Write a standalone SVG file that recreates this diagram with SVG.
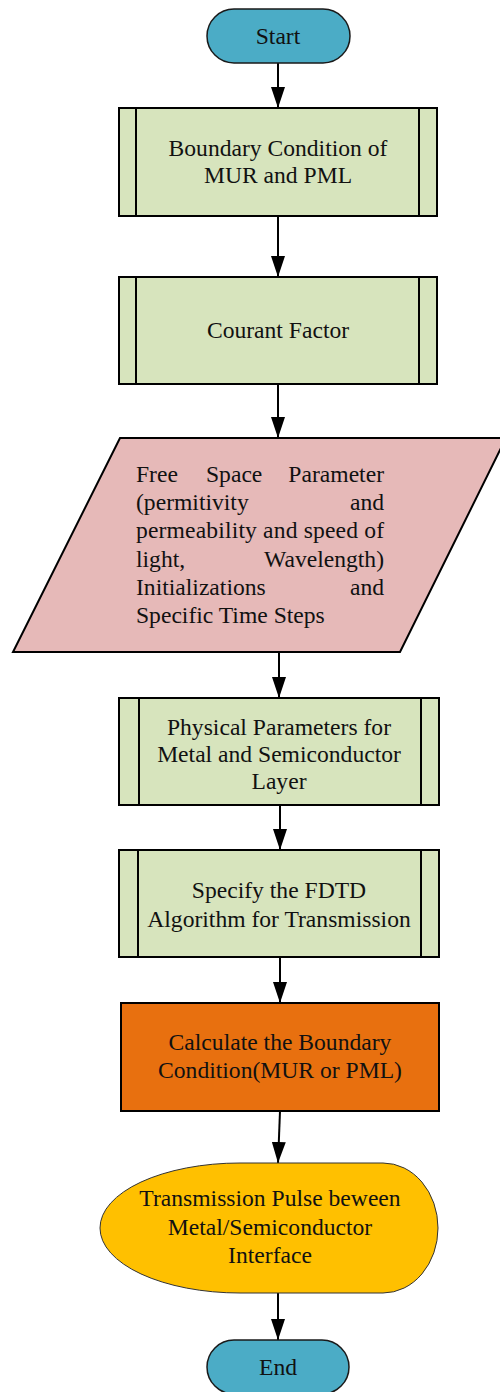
<svg xmlns="http://www.w3.org/2000/svg" width="500" height="1392" viewBox="0 0 500 1392">
<defs>
<style>
text{font-family:"Liberation Serif","Times New Roman",serif;font-size:23.6px;fill:#111;}
.c{text-anchor:middle;}
.e{text-anchor:end;}
.term{fill:#4BACC6;stroke:#1a1a1a;stroke-width:1.5;}
.proc{fill:#D7E4BD;stroke:#000;stroke-width:2;}
.line{stroke:#000;stroke-width:2;fill:none;}
</style>
<marker id="arrv" markerUnits="userSpaceOnUse" markerWidth="22" markerHeight="14" viewBox="0 0 22 14" refX="21" refY="7" orient="auto">
<path d="M0,0 L21,7 L0,14 Z" fill="#000"/>
</marker>
</defs>
<g id="connectors">
<path class="line" marker-end="url(#arrv)" d="M278,63 L278,108"/>
<path class="line" marker-end="url(#arrv)" d="M278,216 L278,277"/>
<path class="line" marker-end="url(#arrv)" d="M278,384 L278,438"/>
<path class="line" marker-end="url(#arrv)" d="M279,652 L279,698"/>
<path class="line" marker-end="url(#arrv)" d="M280,805 L280,850"/>
<path class="line" marker-end="url(#arrv)" d="M280,957 L280,1003"/>
<path class="line" marker-end="url(#arrv)" d="M280,1111 L278,1163"/>
<path class="line" marker-end="url(#arrv)" d="M278,1293 L278,1340"/>
</g>
<g id="start">
<rect class="term" x="207" y="9" width="143" height="54" rx="27"/>
<text class="c" x="278" y="44">Start</text>
</g>
<g id="boundary">
<rect class="proc" x="119" y="108" width="318" height="108"/>
<line class="line" x1="136" y1="108" x2="136" y2="216"/>
<line class="line" x1="419" y1="108" x2="419" y2="216"/>
<text class="c" x="278" y="156">Boundary Condition of</text>
<text class="c" x="278" y="183">MUR and PML</text>
</g>
<g id="courant">
<rect class="proc" x="119" y="277" width="318" height="107"/>
<line class="line" x1="136" y1="277" x2="136" y2="384"/>
<line class="line" x1="419" y1="277" x2="419" y2="384"/>
<text class="c" x="278" y="338">Courant Factor</text>
</g>
<g id="freespace">
<path d="M120,438 L506,438 L400,652 L13,652 Z" fill="#E6B9B8" stroke="#000" stroke-width="2"/>
<text x="136" y="482">Free</text>
<text x="206" y="482">Space</text>
<text class="e" x="384" y="482">Parameter</text>
<text x="136" y="510">(permitivity</text>
<text class="e" x="384" y="510">and</text>
<text x="136" y="538" textLength="248" lengthAdjust="spacing">permeability and speed of</text>
<text x="136" y="567">light,</text>
<text class="e" x="384" y="567">Wavelength)</text>
<text x="136" y="595">Initializations</text>
<text class="e" x="384" y="595">and</text>
<text x="136" y="623">Specific Time Steps</text>
</g>
<g id="physical">
<rect class="proc" x="119" y="698" width="320" height="107"/>
<line class="line" x1="139" y1="698" x2="139" y2="805"/>
<line class="line" x1="421" y1="698" x2="421" y2="805"/>
<text class="c" x="279" y="735">Physical Parameters for</text>
<text class="c" x="279" y="762">Metal and Semiconductor</text>
<text class="c" x="279" y="789">Layer</text>
</g>
<g id="fdtd">
<rect class="proc" x="119" y="850" width="320" height="107"/>
<line class="line" x1="138" y1="850" x2="138" y2="957"/>
<line class="line" x1="421" y1="850" x2="421" y2="957"/>
<text class="c" x="279" y="898">Specify the FDTD</text>
<text class="c" x="279" y="927">Algorithm for Transmission</text>
</g>
<g id="calculate">
<rect x="121" y="1003" width="318" height="108" fill="#E8700F" stroke="#000" stroke-width="2"/>
<text class="c" x="280" y="1050">Calculate the Boundary</text>
<text class="c" x="280" y="1078">Condition(MUR or PML)</text>
</g>
<g id="transmission">
<path d="M240,1163 L383,1163 A55,65 0 0 1 383,1293 L240,1293 A140,65 0 0 1 240,1163 Z" fill="#FFC000" stroke="#333" stroke-width="1"/>
<text class="c" x="270" y="1206">Transmission Pulse beween</text>
<text class="c" x="270" y="1235">Metal/Semiconductor</text>
<text class="c" x="270" y="1263">Interface</text>
</g>
<g id="end">
<rect class="term" x="207" y="1340" width="142" height="54" rx="27"/>
<text class="c" x="278" y="1375">End</text>
</g>
</svg>
